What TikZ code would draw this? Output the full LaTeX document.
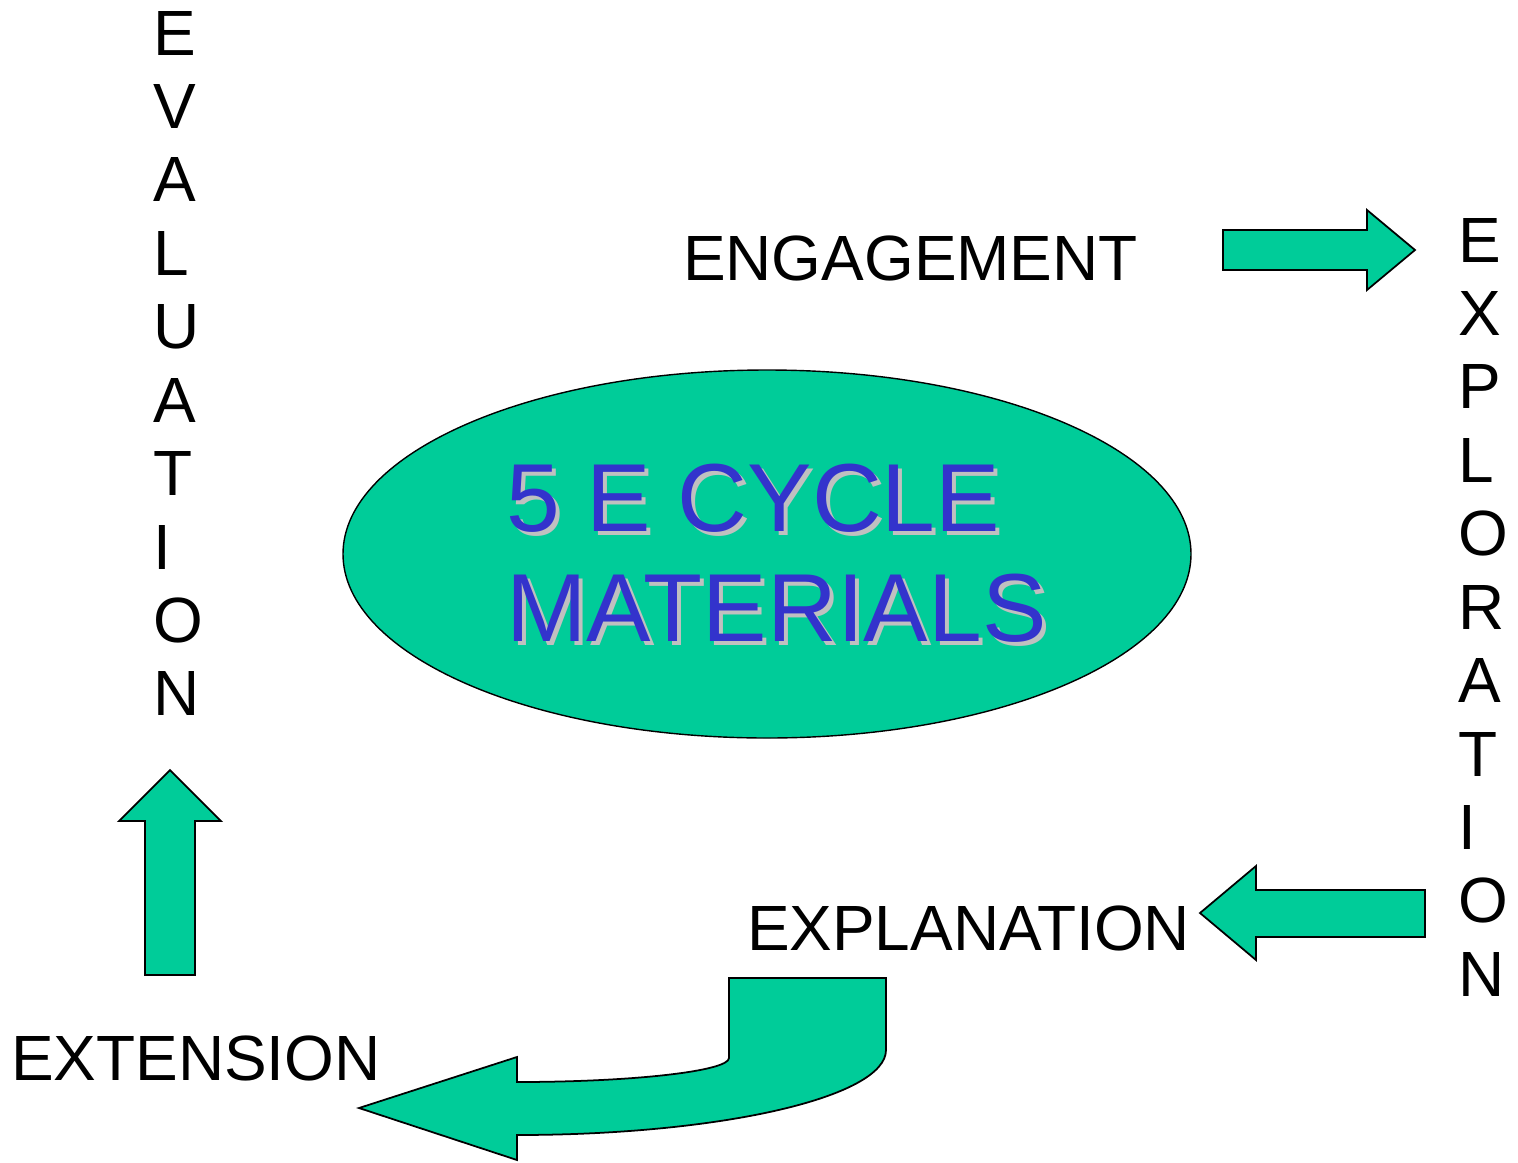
\documentclass[tikz,border=0pt]{standalone}
\usepackage{fontspec}
\setmainfont{Liberation Sans}
\usetikzlibrary{shapes.geometric}
\definecolor{cyclegreen}{HTML}{00CC99}
\definecolor{titleblue}{HTML}{3333CC}
\definecolor{titleshadow}{HTML}{C0C0C0}
\begin{document}
\begin{tikzpicture}[x=0.02cm, y=-0.02cm,
  label/.style={inner sep=0pt, outer sep=0pt, text=black,
    font=\fontsize{36.4pt}{41.8pt}\selectfont},
  column/.style={label, align=left, anchor=north west},
  word/.style={label, anchor=base west},
  title/.style={inner sep=0pt, outer sep=0pt, align=left, anchor=north west,
    font=\fontsize{55pt}{62.6pt}\selectfont},
  blockarrow/.style={fill=cyclegreen, draw=black, line width=1pt, line join=miter}]
\useasboundingbox (0,0) rectangle (1518,1163);

% central ellipse with shadowed title
\node[ellipse, fill=cyclegreen, draw=black, line width=0.8pt,
      minimum width=848*0.02cm, minimum height=368*0.02cm, inner sep=0pt]
      (core) at (767,554) {};
\node[title, text=titleshadow] (titleshade) at (510,468) {5 E CYCLE\\MATERIALS};
\node[title, text=titleblue] (titletext) at (506,464) {5 E CYCLE\\MATERIALS};

% stage labels
\node[word] (engage) at (683,280) {ENGAGEMENT};
\node[word] (explain) at (747,950) {EXPLANATION};
\node[word] (extend) at (11,1080) {EXTENSION};
\node[column] (explore) at (1458,218) {E\\X\\P\\L\\O\\R\\A\\T\\I\\O\\N};
\node[column] (evaluate) at (153,11) {E\\V\\A\\L\\U\\A\\T\\I\\O\\N};

% block arrows between the stages
\draw[blockarrow] (1223,230) -- (1367,230) -- (1367,210) -- (1415,250)
  -- (1367,290) -- (1367,270) -- (1223,270) -- cycle;
\draw[blockarrow] (1425,890) -- (1256,890) -- (1256,866) -- (1200,913)
  -- (1256,960) -- (1256,937) -- (1425,937) -- cycle;
\draw[blockarrow] (145,975) -- (145,821) -- (119,821) -- (170,770)
  -- (221,821) -- (195,821) -- (195,975) -- cycle;
\draw[blockarrow] (729,978) -- (886,978) -- (886,1050)
  .. controls (886,1097) and (721,1135) .. (517,1135)
  -- (517,1160) -- (359,1108) -- (517,1057) -- (517,1082)
  .. controls (634,1082) and (729,1071) .. (729,1058) -- cycle;
\end{tikzpicture}
\end{document}
